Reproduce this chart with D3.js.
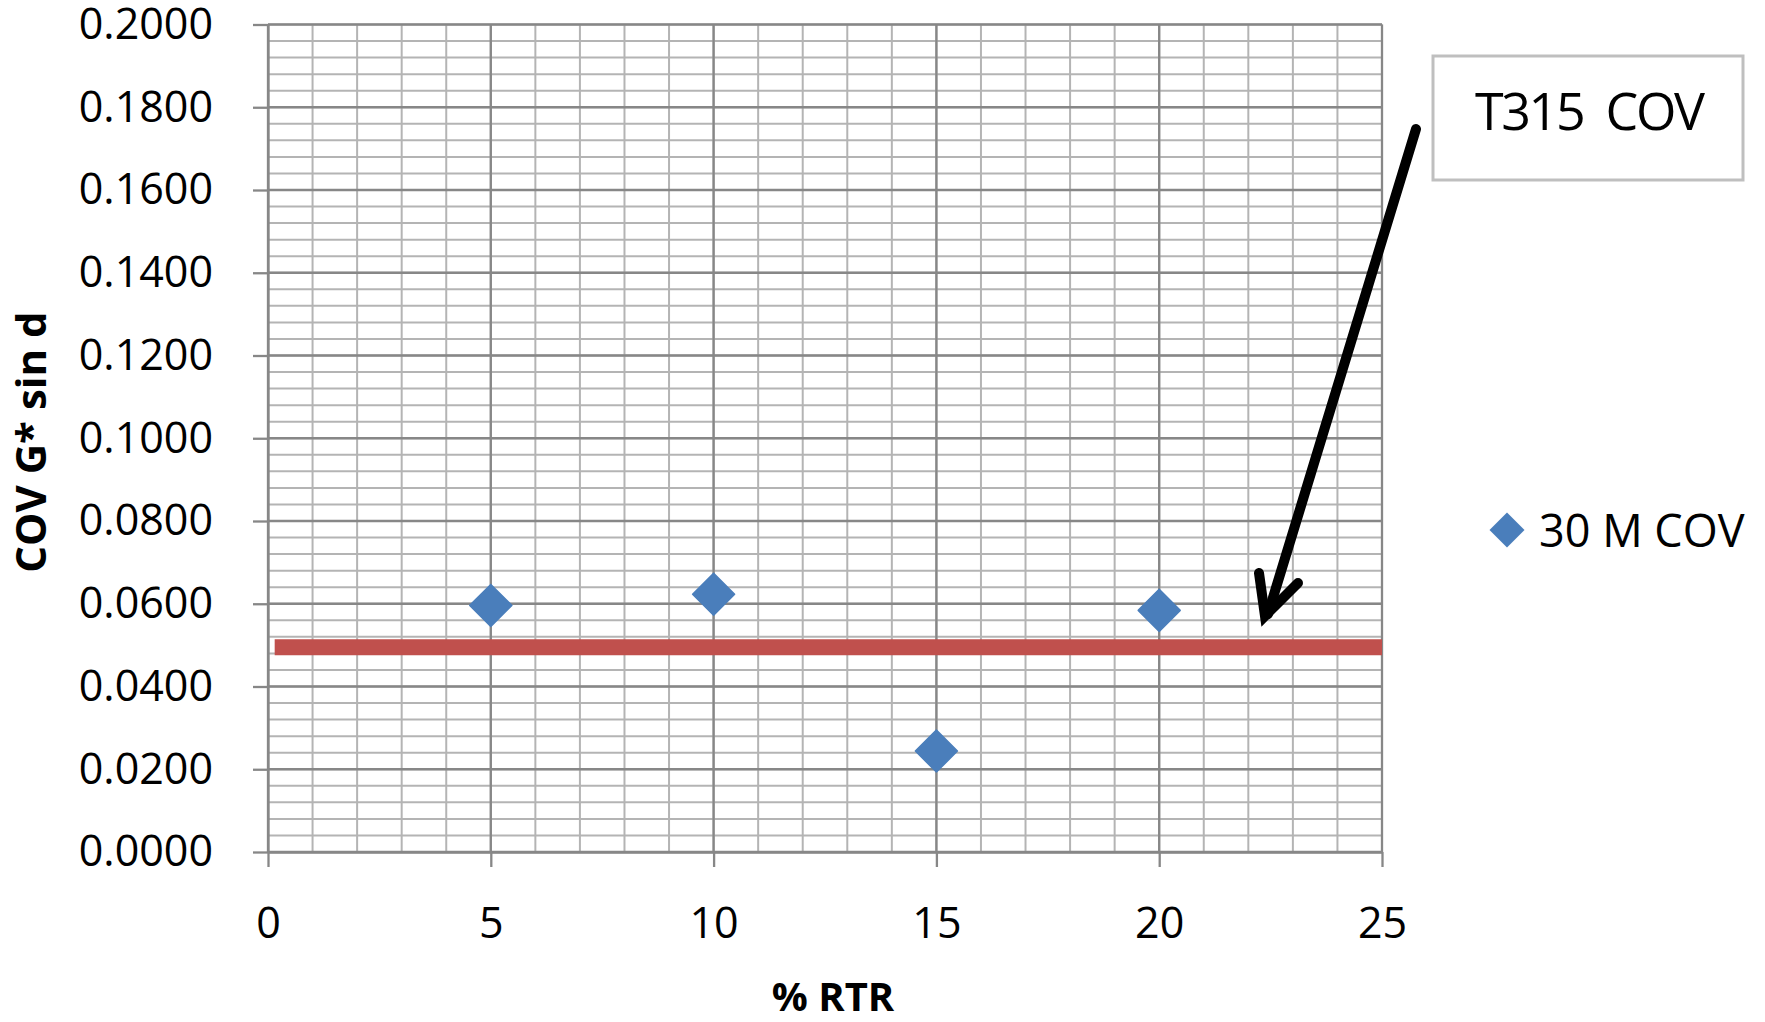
<!DOCTYPE html>
<html>
<head>
<meta charset="utf-8">
<script src="https://cdn.jsdelivr.net/npm/d3@7"></script>
<style>
  html, body { margin: 0; padding: 0; background: #fff; }
  svg { display: block; }
  text { font-family: "Open Sans", Lato, sans-serif; fill: #000; }
</style>
</head>
<body>
<svg id="chart" width="1765" height="1022"></svg>
<script>
// % RTR levels tested
const rtrLevels = [5, 10, 15, 20];
// COV of G* sin d at 30 M
const cov30M = [0.0596, 0.0623, 0.0244, 0.0584];
// T315 COV limit, drawn as a horizontal reference line
const limitX = [0.15, 25];
const limitCOV = 0.0495;
// axis ticks
const xTicks = [0, 5, 10, 15, 20, 25];
const yTicks = [0, 0.02, 0.04, 0.06, 0.08, 0.10, 0.12, 0.14, 0.16, 0.18, 0.20];
const xMinor = d3.range(0, 26, 1);
const yMinor = d3.range(0, 51).map(i => i * 0.004);

const seriesName = "30 M COV";
const noteText = "T315  COV";
const xTitle = "% RTR";
const yTitle = "COV G* sin d";

const svg = d3.select("#chart");
const x = d3.scaleLinear().domain([0, 25]).range([268, 1382]);
const y = d3.scaleLinear().domain([0, 0.2]).range([852, 24.5]);

const minorColor = "#b4b4b4";
const majorColor = "#878787";

// minor gridlines
const grid = svg.append("g");
grid.selectAll("line.vminor").data(xMinor).join("line")
  .attr("x1", d => x(d)).attr("x2", d => x(d))
  .attr("y1", y(0)).attr("y2", y(0.2))
  .attr("stroke", minorColor).attr("stroke-width", 2);
grid.selectAll("line.hminor").data(yMinor).join("line")
  .attr("x1", x(0)).attr("x2", x(25))
  .attr("y1", d => y(d)).attr("y2", d => y(d))
  .attr("stroke", minorColor).attr("stroke-width", 2);
// major gridlines
grid.selectAll("line.vmajor").data(xTicks).join("line")
  .attr("x1", d => x(d)).attr("x2", d => x(d))
  .attr("y1", y(0)).attr("y2", y(0.2))
  .attr("stroke", majorColor).attr("stroke-width", 2.3);
grid.selectAll("line.hmajor").data(yTicks).join("line")
  .attr("x1", x(0)).attr("x2", x(25))
  .attr("y1", d => y(d)).attr("y2", d => y(d))
  .attr("stroke", majorColor).attr("stroke-width", 2.3);

// axes
const yAxis = svg.append("g")
  .attr("transform", `translate(${x(0)},0)`)
  .call(d3.axisLeft(y).tickValues(yTicks).tickFormat(d3.format(".4f"))
    .tickSize(15).tickSizeOuter(0).tickPadding(40));
const xAxis = svg.append("g")
  .attr("transform", `translate(0,${y(0)})`)
  .call(d3.axisBottom(x).tickValues(xTicks).tickFormat(d3.format("d"))
    .tickSize(15).tickSizeOuter(0).tickPadding(40));
[yAxis, xAxis].forEach(a => {
  a.select(".domain").attr("stroke", majorColor).attr("stroke-width", 2.3);
  a.selectAll(".tick line").attr("stroke", majorColor).attr("stroke-width", 2.3);
  a.selectAll(".tick text").attr("font-size", 43)
    .style("font-family", "'Open Sans', Lato, sans-serif").attr("fill", "#000");
});

// limit line with soft shadow
const defs = svg.append("defs");
defs.append("filter").attr("id", "shadow")
  .attr("x", "-5%").attr("y", "-200%").attr("width", "110%").attr("height", "500%")
  .append("feGaussianBlur").attr("stdDeviation", 2.5);
const limitLine = d3.line().x(d => x(d)).y(() => y(limitCOV));
svg.append("path").datum(limitX)
  .attr("d", limitLine)
  .attr("transform", "translate(-4,7)")
  .attr("stroke", "#000").attr("stroke-opacity", 0.55)
  .attr("stroke-width", 15).attr("fill", "none")
  .attr("filter", "url(#shadow)");
svg.append("path").datum(limitX)
  .attr("d", limitLine)
  .attr("stroke", "#c0504d").attr("stroke-width", 16).attr("fill", "none");

// data markers
const diamond = d3.symbol().type(d3.symbolSquare).size(882);
const points = rtrLevels.map((r, i) => ({ r, v: cov30M[i] }));
svg.append("g").selectAll("path").data(points).join("path")
  .attr("d", diamond)
  .attr("transform", d => `translate(${x(d.r)},${y(d.v)}) rotate(45)`)
  .attr("fill", "#4a7ebb")
  .attr("stroke", "#4a7ebb").attr("stroke-width", 1.5).attr("stroke-linejoin", "round");

// axis titles
svg.append("text")
  .attr("transform", "translate(46,442) rotate(-90)")
  .attr("text-anchor", "middle")
  .attr("font-size", 42).attr("font-weight", "bold")
  .text(yTitle);
svg.append("text")
  .attr("x", 833).attr("y", 1011)
  .attr("text-anchor", "middle")
  .attr("font-size", 40).attr("font-weight", "bold")
  .text(xTitle);

// legend
svg.append("path")
  .attr("d", d3.symbol().type(d3.symbolSquare).size(612))
  .attr("transform", "translate(1507,530) rotate(45)")
  .attr("fill", "#4a7ebb");
svg.append("text")
  .attr("x", 1539).attr("y", 547)
  .attr("font-size", 45)
  .text(seriesName);

// callout box
svg.append("rect")
  .attr("x", 1433).attr("y", 56).attr("width", 310).attr("height", 124)
  .attr("fill", "#fff").attr("stroke", "#bfbfbf").attr("stroke-width", 3);
svg.append("text")
  .attr("x", 1475).attr("y", 130)
  .attr("font-size", 52)
  .attr("xml:space", "preserve")
  .attr("textLength", 230).attr("lengthAdjust", "spacing")
  .text(noteText);

// arrow pointing at the limit line
const arrow = svg.append("g")
  .attr("stroke", "#000").attr("stroke-width", 10).attr("fill", "none")
  .attr("stroke-linecap", "round").attr("stroke-linejoin", "miter");
arrow.append("line")
  .attr("x1", 1416).attr("y1", 129).attr("x2", 1268).attr("y2", 614);
arrow.append("path")
  .attr("d", "M1259,573 L1265,616 L1298,583");
</script>
</body>
</html>
